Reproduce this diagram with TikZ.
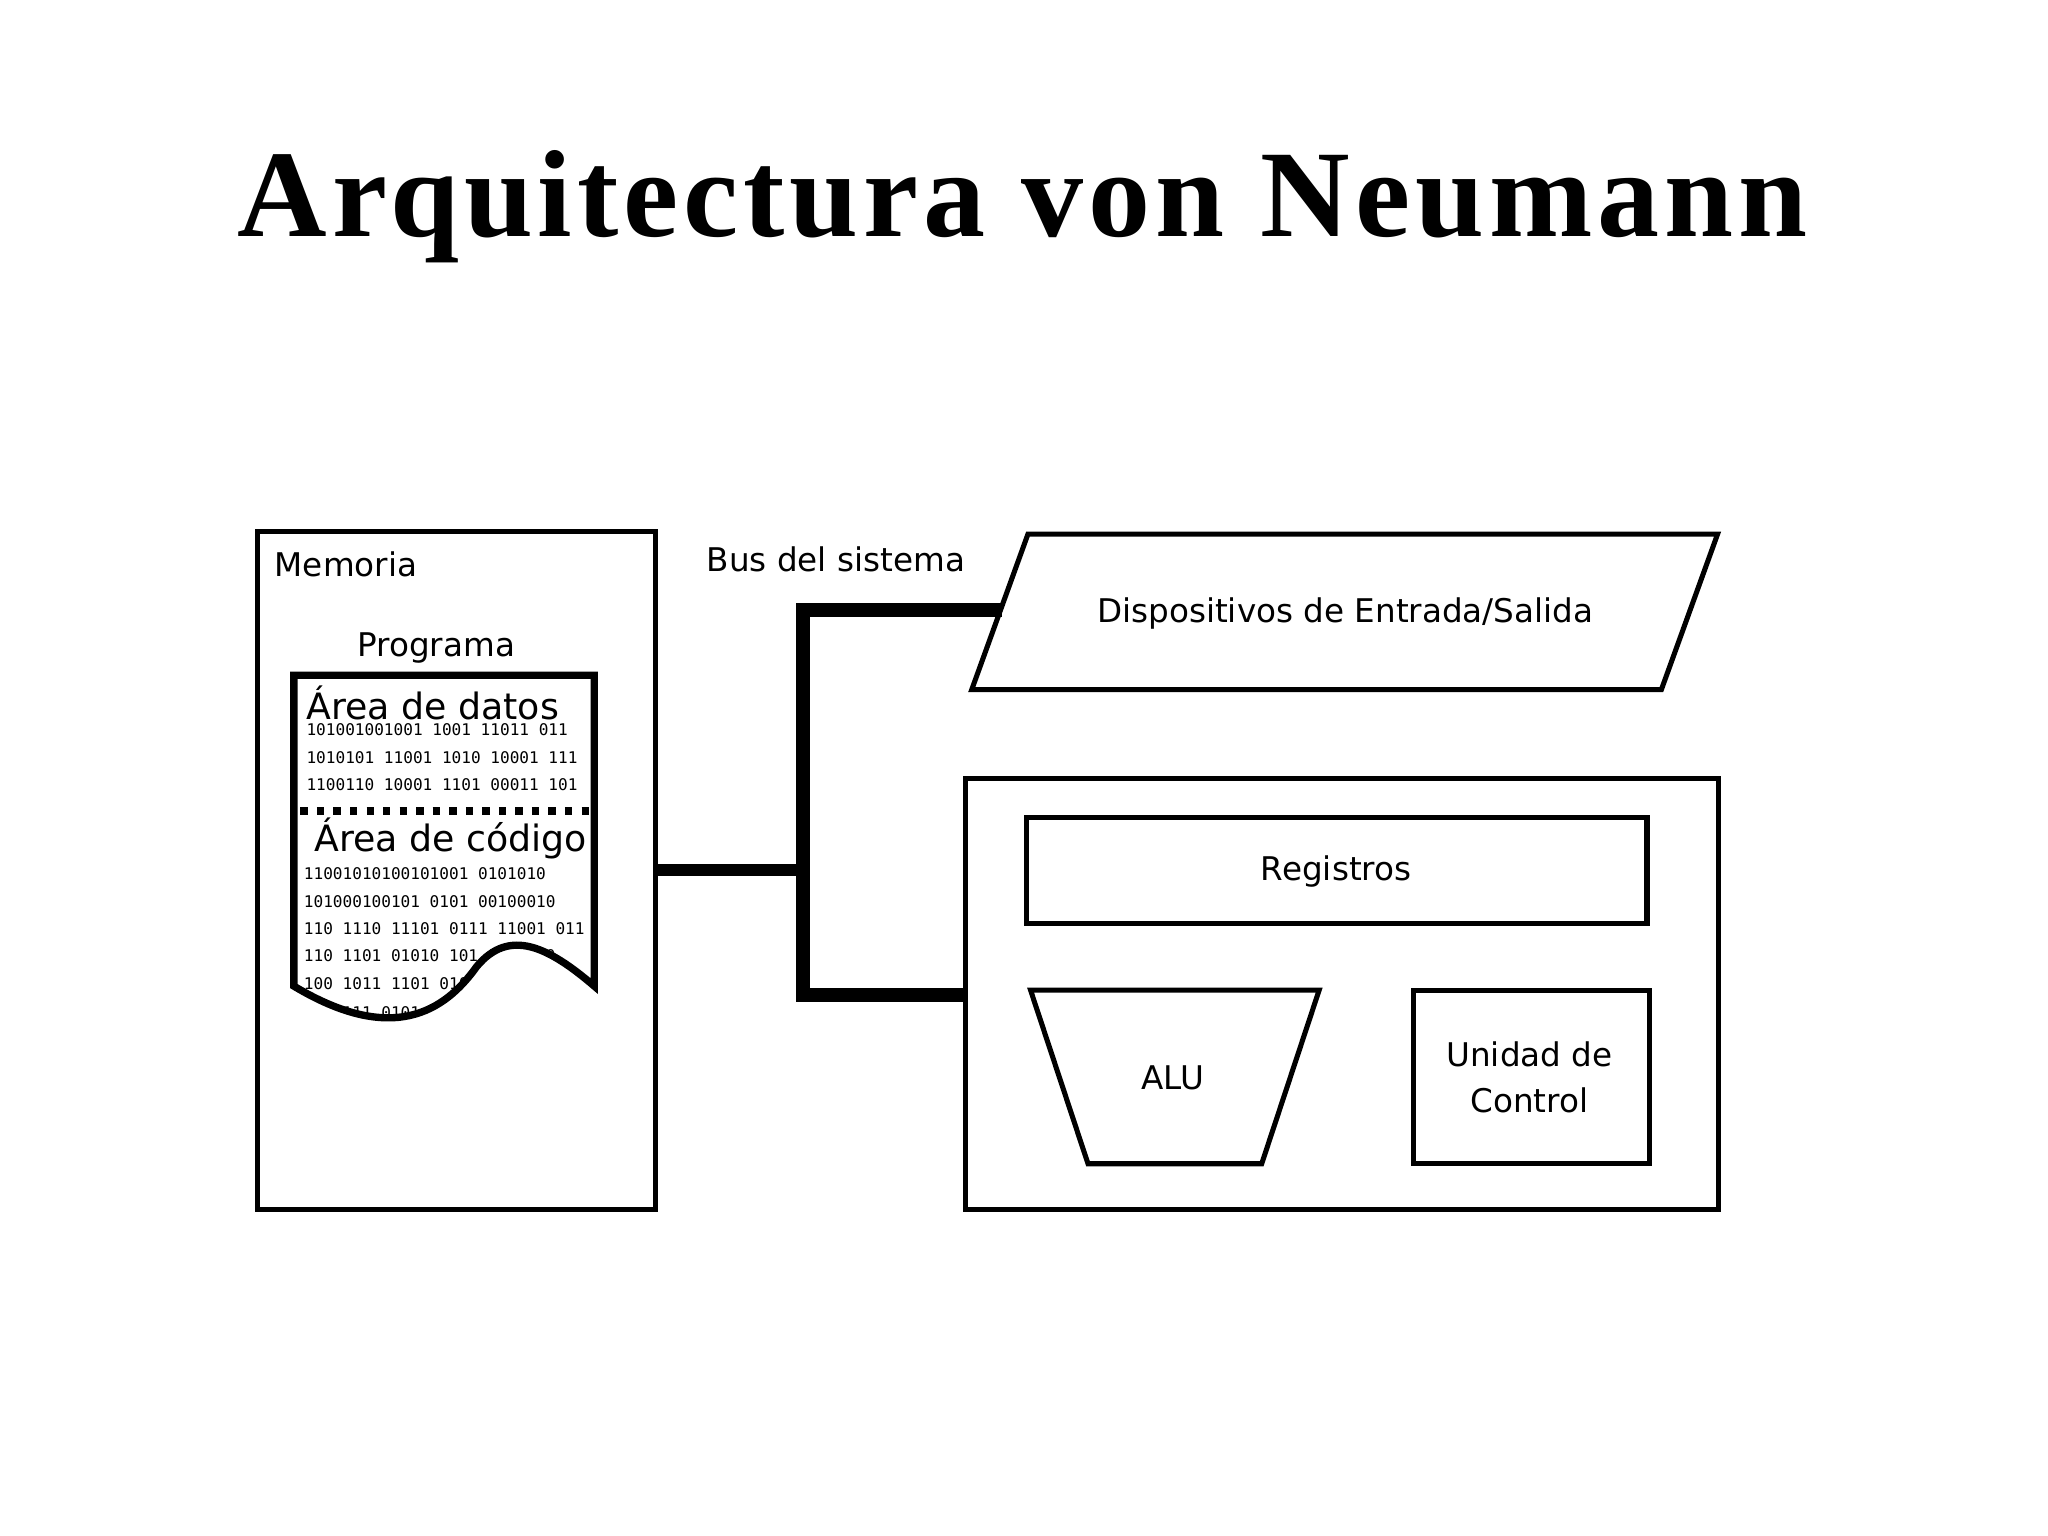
\documentclass[tikz,border=0pt]{standalone}
\usepackage{fontspec}
\setmainfont{DejaVu Sans}
\newfontfamily\titlefont[LetterSpace=4]{Liberation Serif}
\newfontfamily\binfont{DejaVu Sans Mono}
\begin{document}
\begin{tikzpicture}[x=0.01cm,y=-0.01cm,
  box/.style={draw,line width=1.1pt},
  lbl/.style={font=\fontsize{7.1}{9}\selectfont},
  bin/.style={font=\binfont\fontsize{3.5}{5}\selectfont,anchor=west,inner sep=0},
  bus/.style={line width=3pt}]
\useasboundingbox (0,0) rectangle (1568,1176);
\node[font=\titlefont\bfseries\fontsize{27}{30}\selectfont] (title) at (783,158) {Arquitectura von Neumann};
% Memoria
\draw[box] (197,407) rectangle (502,926);
\coordinate (memR) at (502,666);
\node[lbl,anchor=west] (mem) at (198,432) {Memoria};
\node[lbl] (prog) at (334,496) {Programa};
% document
\def\docpath{(225,517) -- (455,517) -- (455,755) .. controls (420,725) and (390,710) .. (365,740) .. controls (340,775) and (300,800) .. (225,755) -- cycle}
\begin{scope}
\clip \docpath;
\node[font=\fontsize{7.9}{10}\selectfont,anchor=west,inner sep=0] (ad) at (234,538) {Área de datos};
\node[bin] at (234,559) {101001001001 1001 11011 011};
\node[bin] at (234,580) {1010101 11001 1010 10001 111};
\node[bin] at (234,601) {1100110 10001 1101 00011 101};
\draw[line width=1.6pt,dotted] (230,621) -- (452,621);
\node[font=\fontsize{7.9}{10}\selectfont,anchor=west,inner sep=0] (ac) at (240,642) {Área de código};
\node[bin] at (232,669) {11001010100101001 0101010};
\node[bin] at (232,690) {101000100101 0101 00100010};
\node[bin] at (232,711) {110 1110 11101 0111 11001 011};
\node[bin] at (232,732) {110 1101 01010 101 0101 10};
\node[bin] at (232,753) {100 1011 1101 0101 1001};
\node[bin] at (232,775) {1 10111 0101 1101};
\end{scope}
\draw[line width=1.6pt] \docpath;
% bus
\node[lbl] (buslbl) at (640,428) {Bus del sistema};
\coordinate (b1) at (615,666);
\coordinate (bt) at (615,467);
\coordinate (bb) at (615,762);
% IO
\draw[box] (787,409) -- (1315,409) -- (1272,528) -- (744,528) -- cycle;
\coordinate (ioL) at (767,467);
\node[lbl] (io) at (1030,470) {Dispositivos de Entrada/Salida};
% CPU
\draw[box] (739,596) rectangle (1316,926);
\coordinate (cpuL) at (739,762);
\draw[box] (786,626) rectangle (1261,707);
\node[lbl] (reg) at (1023,667) {Registros};
\draw[box] (789,758) -- (1010,758) -- (966,891) -- (833,891) -- cycle;
\node[lbl] (alu) at (898,825) {ALU};
\draw[box] (1082,758) rectangle (1263,891);
\node[lbl,align=center] (uc) at (1171,825) {Unidad de\\[1pt]Control};
\draw[line width=2.6pt] (memR) -- (b1);
\draw[bus] (ioL) -- (bt) -- (bb) -- (cpuL);
\end{tikzpicture}
\end{document}
